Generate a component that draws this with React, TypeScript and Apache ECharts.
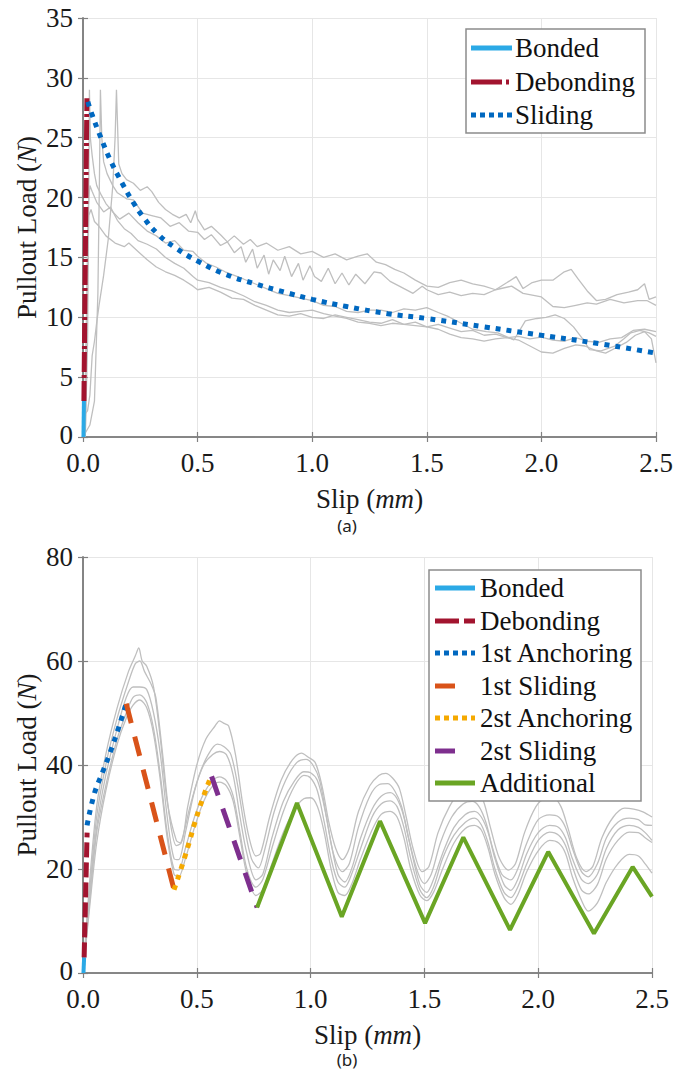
import React, { useEffect, useRef } from 'react';
import * as echarts from 'echarts';

// ---------- Chart (a) data ----------
const aBonded = [[0.002, 0], [0.004, 3]];
const aDebonding = [[0.004, 3], [0.017, 28.3]];
const aSliding = [[0.021, 28.0], [0.04, 26.9], [0.076, 25.1], [0.12, 23.1], [0.171, 21.2], [0.222, 19.5], [0.258, 18.5], [0.324, 17.0], [0.404, 15.8], [0.5, 14.7], [0.62, 13.6], [0.75, 12.8], [0.88, 12.1], [1.0, 11.5], [1.15, 10.9], [1.33, 10.3], [1.5, 9.9], [1.75, 9.2], [2.0, 8.5], [2.25, 7.8], [2.5, 7.0]];

const aTest1 = [[0, 0], [0.005, 1.8], [0.02, 2.2], [0.03, 3.5], [0.04, 6.8], [0.05, 8], [0.06, 9.6], [0.07, 11], [0.09, 13.5], [0.11, 16.5], [0.13, 21], [0.14, 25], [0.146, 29], [0.15, 26.5], [0.156, 22.8], [0.17, 22], [0.19, 21.5], [0.22, 21.2], [0.25, 20.6], [0.28, 20.9], [0.3, 20.5], [0.33, 19.6], [0.36, 19.0], [0.39, 18.6], [0.42, 18.3], [0.45, 18.6], [0.47, 17.9], [0.49, 18.9], [0.5, 18.2], [0.53, 17.3], [0.56, 17.6], [0.6, 16.9], [0.63, 16.3], [0.66, 16.8], [0.7, 16.1], [0.73, 16.5], [0.76, 15.9], [0.8, 16.2], [0.85, 15.6], [0.9, 15.9], [0.95, 15.3], [1.0, 15.5], [1.05, 15.0], [1.1, 15.3], [1.15, 14.8], [1.2, 15.1], [1.24, 15.3], [1.28, 14.6], [1.32, 14.4], [1.36, 14.0], [1.4, 13.7], [1.45, 13.1], [1.5, 12.6], [1.55, 12.5], [1.6, 12.9], [1.65, 13.1], [1.7, 12.8], [1.75, 12.6], [1.8, 12.3], [1.85, 12.9], [1.89, 13.4], [1.92, 12.4], [1.96, 12.9], [2.0, 13.1], [2.05, 13.1], [2.1, 13.8], [2.13, 14.0], [2.16, 13.2], [2.2, 12.2], [2.24, 11.4], [2.28, 11.5], [2.33, 11.9], [2.38, 12.1], [2.42, 12.3], [2.45, 12.8], [2.47, 11.5], [2.5, 11.7]];
const aTest2 = [[0, 0], [0.03, 1], [0.05, 3], [0.065, 12], [0.072, 22], [0.076, 29], [0.082, 25], [0.09, 23], [0.105, 22], [0.13, 21], [0.15, 20.4], [0.19, 19.9], [0.22, 19.8], [0.26, 18.7], [0.3, 18.5], [0.34, 18.3], [0.38, 17.6], [0.42, 17.9], [0.46, 17.2], [0.5, 17.1], [0.53, 16.5], [0.56, 16.9], [0.6, 16.0], [0.63, 16.3], [0.66, 15.4], [0.69, 15.9], [0.71, 14.6], [0.74, 15.7], [0.76, 14.1], [0.79, 15.2], [0.81, 13.6], [0.83, 14.8], [0.86, 13.9], [0.88, 15.1], [0.91, 13.4], [0.94, 14.5], [0.96, 13.1], [0.99, 14.3], [1.01, 13.4], [1.04, 13.0], [1.07, 14.1], [1.1, 12.8], [1.13, 13.7], [1.16, 12.7], [1.19, 13.6], [1.23, 12.8], [1.27, 13.8], [1.3, 13.7], [1.34, 13.0], [1.38, 12.6], [1.44, 12.0], [1.48, 12.6], [1.5, 12.3], [1.55, 11.9], [1.6, 12.1], [1.65, 11.8], [1.7, 12.0], [1.75, 11.9], [1.8, 12.3], [1.87, 12.6], [1.92, 12.0], [2.0, 11.7], [2.05, 10.9], [2.1, 10.8], [2.15, 11.0], [2.2, 11.2], [2.24, 11.1], [2.3, 11.5], [2.36, 11.2], [2.42, 11.4], [2.46, 11.4], [2.5, 11.0]];
const aTest3 = [[0.01, 0], [0.02, 8], [0.025, 20], [0.028, 29], [0.032, 25], [0.04, 23.5], [0.05, 22], [0.06, 21], [0.08, 20.2], [0.1, 19.5], [0.13, 18.8], [0.16, 18.2], [0.2, 18.7], [0.24, 17.9], [0.28, 17.2], [0.32, 16.8], [0.36, 16.2], [0.4, 16.4], [0.44, 15.6], [0.48, 15.5], [0.5, 15.1], [0.54, 14.5], [0.58, 14.2], [0.62, 13.8], [0.66, 13.5], [0.7, 13.2], [0.75, 12.8], [0.8, 12.4], [0.85, 12.0], [0.9, 11.8], [0.95, 11.6], [1.0, 11.4], [1.05, 11.0], [1.1, 10.9], [1.15, 10.5], [1.2, 10.4], [1.25, 10.6], [1.3, 10.6], [1.35, 10.4], [1.4, 10.7], [1.45, 10.6], [1.5, 10.8], [1.55, 10.4], [1.59, 10.1], [1.65, 9.5], [1.7, 9.0], [1.76, 8.8], [1.81, 8.7], [1.88, 8.1], [1.93, 9.7], [1.98, 9.9], [2.02, 10.0], [2.06, 10.2], [2.1, 9.9], [2.14, 9.2], [2.18, 8.2], [2.21, 7.3], [2.26, 7.2], [2.32, 7.6], [2.36, 8.2], [2.39, 8.7], [2.43, 8.9], [2.47, 8.7], [2.5, 8.4]];
const aTest4 = [[0.005, 0], [0.015, 10], [0.022, 19], [0.03, 21], [0.04, 20.5], [0.06, 19.6], [0.09, 18.8], [0.12, 19.2], [0.15, 18.1], [0.18, 17.4], [0.21, 17.0], [0.24, 16.4], [0.28, 16.1], [0.32, 15.7], [0.36, 15.0], [0.4, 14.5], [0.44, 14.1], [0.48, 13.4], [0.5, 13.1], [0.55, 12.9], [0.6, 12.5], [0.65, 12.2], [0.7, 11.8], [0.75, 11.3], [0.8, 11.0], [0.85, 10.6], [0.9, 10.4], [0.95, 10.5], [1.0, 10.6], [1.05, 10.3], [1.1, 10.1], [1.15, 9.9], [1.2, 9.6], [1.25, 9.5], [1.3, 9.3], [1.35, 9.5], [1.4, 9.4], [1.45, 9.3], [1.5, 9.2], [1.55, 9.0], [1.6, 8.6], [1.65, 8.3], [1.7, 8.2], [1.75, 8.0], [1.8, 8.2], [1.85, 8.3], [1.9, 8.1], [1.95, 7.6], [2.0, 7.1], [2.05, 7.0], [2.1, 7.4], [2.15, 7.7], [2.19, 7.6], [2.24, 7.2], [2.28, 7.0], [2.33, 7.5], [2.37, 7.9], [2.41, 8.5], [2.45, 8.8], [2.48, 8.2], [2.5, 6.2]];
const aTest5 = [[0.01, 0], [0.018, 12], [0.025, 18.5], [0.035, 19], [0.05, 18], [0.07, 17.6], [0.1, 16.8], [0.14, 16.2], [0.18, 15.9], [0.2, 16.2], [0.24, 15.5], [0.28, 14.8], [0.32, 14.2], [0.36, 13.8], [0.4, 13.5], [0.44, 13.1], [0.48, 12.6], [0.5, 12.3], [0.55, 12.5], [0.6, 12.1], [0.65, 11.6], [0.7, 11.5], [0.75, 11.0], [0.8, 10.6], [0.85, 10.2], [0.9, 10.1], [0.95, 10.3], [1.0, 10.0], [1.05, 9.9], [1.1, 10.2], [1.15, 10.0], [1.2, 9.8], [1.25, 9.6], [1.3, 9.5], [1.35, 9.8], [1.4, 9.4], [1.45, 9.6], [1.5, 9.2], [1.55, 9.4], [1.6, 9.1], [1.65, 8.8], [1.7, 8.9], [1.75, 8.5], [1.8, 8.6], [1.85, 8.3], [1.9, 8.4], [1.95, 8.2], [2.0, 8.35], [2.05, 8.1], [2.1, 8.0], [2.15, 8.3], [2.2, 8.0], [2.25, 7.9], [2.3, 8.2], [2.35, 8.3], [2.4, 8.9], [2.45, 9.0], [2.5, 8.8]];

// ---------- Chart (b) data ----------
const bBonded = [[0.002, 0], [0.005, 3]];
const bDebonding = [[0.005, 3], [0.018, 27]];
const bAnchoring1 = [[0.018, 28.4], [0.05, 34.5], [0.085, 38.5], [0.12, 42.5], [0.155, 47], [0.19, 51.8]];
const bSliding1 = [[0.19, 51.8], [0.4, 16]];
const bAnchoring2 = [[0.4, 16], [0.45, 22.7], [0.51, 31.5], [0.56, 37.5]];
const bSliding2 = [[0.565, 37.8], [0.765, 12.6]];
const bAdditional = [[0.765, 12.6], [0.94, 32.7], [1.137, 10.8], [1.305, 29.2], [1.503, 9.6], [1.671, 26.1], [1.876, 8.3], [2.044, 23.3], [2.245, 7.6], [2.415, 20.4], [2.5, 14.7]];

const bTest1 = [[0, 0], [0.03, 18], [0.06, 32], [0.1, 42], [0.15, 51], [0.2, 58], [0.23, 61], [0.245, 62.5], [0.26, 60], [0.28, 59], [0.31, 55], [0.34, 45], [0.37, 33], [0.41, 25.5], [0.43, 25], [0.46, 32], [0.5, 40], [0.54, 45], [0.58, 47.5], [0.6, 48.5], [0.62, 48], [0.64, 47.5], [0.67, 42], [0.7, 33], [0.73, 26], [0.76, 22.5], [0.78, 23], [0.82, 30], [0.87, 37], [0.92, 41], [0.96, 42.3], [0.99, 41.5], [1.02, 40.5], [1.05, 36], [1.08, 29], [1.11, 24], [1.14, 21.8], [1.17, 24], [1.21, 31], [1.26, 36], [1.3, 38], [1.33, 38.4], [1.36, 37.5], [1.39, 35.5], [1.42, 30], [1.45, 24], [1.49, 19.5], [1.52, 20.5], [1.56, 27], [1.61, 32], [1.66, 35], [1.7, 35.5], [1.73, 35], [1.76, 33], [1.79, 28], [1.83, 22], [1.87, 19.8], [1.9, 21], [1.94, 27], [1.99, 32], [2.03, 33.5], [2.07, 33.5], [2.1, 32], [2.13, 28], [2.17, 22], [2.21, 19.5], [2.24, 20.5], [2.28, 26], [2.33, 30], [2.38, 31.7], [2.42, 31.5], [2.46, 31], [2.5, 30]];
const bTest2 = [[0, 0], [0.03, 16], [0.06, 30], [0.1, 40], [0.15, 49], [0.2, 56], [0.23, 59.5], [0.25, 60], [0.27, 58], [0.3, 55.5], [0.32, 53], [0.35, 42], [0.38, 30], [0.41, 24.5], [0.43, 25], [0.47, 32], [0.51, 38], [0.55, 42], [0.59, 44], [0.62, 43.5], [0.65, 42], [0.68, 36], [0.71, 28], [0.74, 22], [0.77, 20.2], [0.8, 24], [0.84, 31], [0.89, 37], [0.94, 40.5], [0.98, 41.1], [1.01, 40], [1.04, 37], [1.07, 30], [1.1, 23], [1.14, 19.5], [1.17, 21], [1.21, 28], [1.26, 34], [1.3, 36.2], [1.34, 36.4], [1.37, 35], [1.4, 32], [1.43, 26], [1.47, 19.5], [1.5, 17.2], [1.53, 19], [1.57, 25], [1.62, 30], [1.67, 32.5], [1.71, 33], [1.74, 32], [1.77, 29], [1.8, 24], [1.84, 19], [1.88, 17.9], [1.91, 20], [1.95, 25], [2.0, 29.5], [2.05, 30.4], [2.09, 30], [2.12, 28], [2.15, 24], [2.19, 19.5], [2.22, 18.5], [2.26, 21], [2.3, 26], [2.35, 29], [2.4, 29.8], [2.44, 29.5], [2.47, 28.5], [2.5, 28.4]];
const bTest3 = [[0, 0], [0.03, 15], [0.06, 28], [0.1, 38], [0.15, 47], [0.19, 53], [0.22, 55], [0.25, 55], [0.28, 54.5], [0.31, 50], [0.34, 42], [0.37, 30], [0.4, 22], [0.42, 21.8], [0.45, 27], [0.49, 35], [0.53, 40], [0.57, 42], [0.6, 42.6], [0.63, 42], [0.66, 38], [0.69, 30], [0.72, 23], [0.76, 17.9], [0.79, 19], [0.83, 26], [0.88, 33], [0.93, 37], [0.97, 38.7], [1.0, 38.5], [1.03, 37], [1.06, 32], [1.09, 25], [1.12, 19], [1.15, 17.5], [1.18, 20], [1.22, 26], [1.27, 31.5], [1.31, 34], [1.35, 34.7], [1.38, 33.5], [1.41, 30], [1.44, 24], [1.48, 17], [1.51, 15.5], [1.54, 18], [1.58, 23], [1.63, 28], [1.68, 30.5], [1.72, 31.1], [1.75, 30], [1.78, 27], [1.81, 22], [1.85, 17], [1.88, 15.9], [1.91, 18], [1.95, 23], [2.0, 27], [2.05, 28.4], [2.09, 28], [2.12, 26], [2.15, 22], [2.19, 18], [2.22, 17.2], [2.26, 19], [2.3, 24], [2.35, 27.5], [2.4, 28.4], [2.44, 28], [2.47, 27], [2.5, 25.5]];
const bTest4 = [[0, 0], [0.03, 14], [0.06, 27], [0.1, 36], [0.15, 45], [0.19, 50], [0.22, 53], [0.25, 53.5], [0.28, 52], [0.31, 47], [0.34, 38], [0.37, 27], [0.4, 20], [0.42, 19.8], [0.45, 24], [0.49, 30], [0.53, 34.5], [0.57, 37], [0.6, 37.7], [0.63, 37], [0.66, 34], [0.69, 27], [0.72, 20], [0.76, 16.5], [0.79, 18], [0.83, 24], [0.88, 31], [0.93, 36], [0.97, 38], [1.0, 37.5], [1.03, 35], [1.06, 29], [1.09, 22], [1.12, 17.5], [1.15, 16.5], [1.18, 19], [1.22, 24], [1.27, 30], [1.31, 32.5], [1.35, 33.1], [1.38, 32], [1.41, 28], [1.44, 22], [1.48, 16], [1.51, 14.5], [1.54, 16.5], [1.58, 22], [1.63, 26.5], [1.68, 29], [1.72, 29.8], [1.75, 28.5], [1.78, 25], [1.81, 20], [1.85, 15.5], [1.88, 14.5], [1.91, 16.5], [1.95, 21], [2.0, 25.5], [2.05, 27.1], [2.09, 26.5], [2.12, 24.5], [2.15, 20.5], [2.19, 16], [2.22, 15.2], [2.26, 17], [2.3, 22], [2.35, 25.5], [2.4, 27.1], [2.44, 27], [2.47, 26], [2.5, 25.1]];
const bTest5 = [[0, 0], [0.03, 13], [0.06, 25], [0.1, 35], [0.15, 44], [0.19, 49], [0.22, 51.5], [0.25, 52.5], [0.28, 51], [0.31, 46], [0.34, 37], [0.37, 26], [0.4, 19], [0.42, 18.5], [0.45, 22], [0.49, 28], [0.53, 33], [0.57, 36], [0.6, 36.7], [0.63, 36], [0.66, 33], [0.69, 26], [0.72, 19], [0.76, 14.9], [0.79, 16], [0.83, 21], [0.88, 27], [0.93, 31.5], [0.97, 33.5], [1.0, 33.7], [1.03, 32], [1.06, 27], [1.09, 20], [1.12, 15.5], [1.15, 14.9], [1.18, 17], [1.22, 22], [1.27, 27.5], [1.31, 30.5], [1.35, 31.1], [1.38, 30], [1.41, 26], [1.44, 20], [1.48, 15], [1.51, 13.9], [1.54, 15.5], [1.58, 20], [1.63, 25], [1.68, 27.8], [1.72, 28.4], [1.75, 27.5], [1.78, 24], [1.81, 19], [1.85, 14.5], [1.88, 13.2], [1.91, 15], [1.95, 19.5], [2.0, 23.5], [2.05, 25.5], [2.09, 25], [2.12, 23], [2.15, 18.5], [2.19, 14], [2.22, 11.9], [2.26, 13.5], [2.3, 17.5], [2.35, 21], [2.4, 22.8], [2.44, 22.5], [2.47, 21], [2.5, 19.2]];

// ---------- labels ----------
const aLegendLabels = ['Bonded', 'Debonding', 'Sliding'];
const bLegendLabels = ['Bonded', 'Debonding', '1st Anchoring', '1st Sliding', '2st Anchoring', '2st Sliding', 'Additional'];
const xTitle = ['Slip (', 'mm', ')'];
const yTitle = ['Pullout Load (', 'N', ')'];
const panelLabels = ['(a)', '(b)'];

const SERIF = 'Liberation Serif';
const C_BOND = '#2ba9e6';
const C_DEB = '#a2142f';
const C_BLUE = '#0068c0';
const C_ORANGE = '#d95319';
const C_YELLOW = '#f5a900';
const C_PURPLE = '#7e2f8e';
const C_GREEN = '#6aa524';
const C_GREY = '#bfbfbf';
const C_AXIS = '#808080';

const DASH_DOT = [20, 3, 3, 3];
const DASH_B = [15, 5];
const DOTS = [5, 6];
const LONGDASH = [20, 14];

function buildOption() {
  const grids = [
    { left: 83, top: 18, width: 573, height: 419 },
    { left: 83, top: 557, width: 569, height: 416 },
  ];
  const rich = {
    r: { fontFamily: SERIF, fontSize: 27, color: '#1a1a1a' },
    i: { fontFamily: SERIF, fontSize: 27, color: '#1a1a1a', fontStyle: 'italic' },
  };
  const axisLine = { show: true, lineStyle: { color: C_AXIS, width: 1.6 } };
  const tick = { show: true, inside: true, length: 5, lineStyle: { color: C_AXIS, width: 1.2 } };
  const split = { show: true, lineStyle: { color: '#e6e6e6', width: 1 } };
  const labelStyle = { fontFamily: SERIF, fontSize: 27, color: '#1a1a1a' };

  const xAxes: any[] = [];
  const yAxes: any[] = [];
  const yMax = [35, 80];
  const yInt = [5, 20];
  [0, 1].forEach((g) => {
    xAxes.push({
      type: 'value', gridIndex: g, min: 0, max: 2.5, interval: 0.5, position: 'bottom',
      axisLine, axisTick: tick, splitLine: split,
      axisLabel: { ...labelStyle, margin: 12, formatter: (v: number) => v.toFixed(1) },
      name: `{r|${xTitle[0]}}{i|${xTitle[1]}}{r|${xTitle[2]}}`,
      nameLocation: 'middle', nameGap: 48, nameMoveOverlap: false, nameTextStyle: { rich },
    });
    xAxes.push({
      type: 'value', gridIndex: g, min: 0, max: 2.5, interval: 0.5, position: 'top',
      axisLine, axisTick: tick, splitLine: { show: false }, axisLabel: { show: false },
    });
    yAxes.push({
      type: 'value', gridIndex: g, min: 0, max: yMax[g], interval: yInt[g], position: 'left',
      axisLine, axisTick: tick, splitLine: split,
      axisLabel: {
        ...labelStyle, margin: 10,
        formatter: (v: number) => (v === 0 ? '{z|0}' : String(v)),
        rich: { z: { fontFamily: SERIF, fontSize: 27, color: '#1a1a1a', padding: [0, 0, 5, 0] } },
      },
      name: `{r|${yTitle[0]}}{i|${yTitle[1]}}{r|${yTitle[2]}}`,
      nameLocation: 'middle', nameGap: 43, nameRotate: 90, nameMoveOverlap: false, nameTextStyle: { rich },
    });
    yAxes.push({
      type: 'value', gridIndex: g, min: 0, max: yMax[g], interval: yInt[g], position: 'right',
      axisLine, axisTick: tick, splitLine: { show: false }, axisLabel: { show: false },
    });
  });

  const grey = (name: string, data: number[][], g: number, smooth: number | boolean) => ({
    type: 'line', name, data, xAxisIndex: g * 2, yAxisIndex: g * 2, showSymbol: false, symbol: 'none',
    smooth, lineStyle: { color: C_GREY, width: 1.3 }, z: 2, silent: true,
  });
  const colored = (name: string, data: number[][], g: number, color: string, width: number, type: any, smooth = false) => ({
    type: 'line', name, data, xAxisIndex: g * 2, yAxisIndex: g * 2, showSymbol: false, symbol: 'none',
    smooth, clip: false, lineStyle: { color, width, type, cap: 'butt' }, z: 5,
  });

  const series: any[] = [
    grey('Test a1', aTest1, 0, false), grey('Test a2', aTest2, 0, false), grey('Test a3', aTest3, 0, false),
    grey('Test a4', aTest4, 0, false), grey('Test a5', aTest5, 0, false),
    colored(aLegendLabels[0], aBonded, 0, C_BOND, 4, 'solid'),
    colored(aLegendLabels[1], aDebonding, 0, C_DEB, 5, DASH_DOT),
    colored(aLegendLabels[2], aSliding, 0, C_BLUE, 5, DOTS, true),
    grey('Test b1', bTest1, 1, 0.3), grey('Test b2', bTest2, 1, 0.3), grey('Test b3', bTest3, 1, 0.3),
    grey('Test b4', bTest4, 1, 0.3), grey('Test b5', bTest5, 1, 0.3),
    colored(bLegendLabels[0], bBonded, 1, C_BOND, 4, 'solid'),
    colored(bLegendLabels[1], bDebonding, 1, C_DEB, 5, DASH_B),
    colored(bLegendLabels[2], bAnchoring1, 1, C_BLUE, 5, DOTS, true),
    colored(bLegendLabels[3], bSliding1, 1, C_ORANGE, 5, LONGDASH),
    colored(bLegendLabels[4], bAnchoring2, 1, C_YELLOW, 5, DOTS, true),
    colored(bLegendLabels[5], bSliding2, 1, C_PURPLE, 5, LONGDASH),
    colored(bLegendLabels[6], bAdditional, 1, C_GREEN, 4, 'solid'),
  ];

  const legendBox = (x: number, y: number, w: number, h: number, lx1: number, lx2: number, tx: number,
    rows: { label: string; color: string; dash: any; y: number; x2?: number }[]) => {
    const els: any[] = [
      { type: 'rect', shape: { x, y, width: w, height: h }, style: { fill: '#ffffff', stroke: '#8c8c8c', lineWidth: 1.5 }, z: 100 },
    ];
    rows.forEach((r) => {
      els.push({
        type: 'line', shape: { x1: lx1, y1: r.y, x2: r.x2 ?? lx2, y2: r.y },
        style: { stroke: r.color, lineWidth: 5, lineDash: r.dash, lineCap: 'butt' }, z: 101,
      });
      els.push({
        type: 'text', x: tx, y: r.y,
        style: { text: r.label, fontFamily: SERIF, fontSize: 27, fill: '#111111', align: 'left', verticalAlign: 'middle' }, z: 101,
      });
    });
    return els;
  };

  const graphic: any[] = [
    ...legendBox(466, 29, 179, 104, 471, 512, 515, [
      { label: aLegendLabels[0], color: C_BOND, dash: null, y: 48 },
      { label: aLegendLabels[1], color: C_DEB, dash: [31, 4, 3, 4], y: 82 },
      { label: aLegendLabels[2], color: C_BLUE, dash: [5, 4], y: 115 },
    ]),
    ...legendBox(429, 570, 212, 231, 435, 475, 480, [
      { label: bLegendLabels[0], color: C_BOND, dash: null, y: 588 },
      { label: bLegendLabels[1], color: C_DEB, dash: [24, 5], y: 621 },
      { label: bLegendLabels[2], color: C_BLUE, dash: [5, 4], y: 653 },
      { label: bLegendLabels[3], color: C_ORANGE, dash: null, y: 686, x2: 455 },
      { label: bLegendLabels[4], color: C_YELLOW, dash: [5, 4], y: 718 },
      { label: bLegendLabels[5], color: C_PURPLE, dash: null, y: 751, x2: 455 },
      { label: bLegendLabels[6], color: C_GREEN, dash: null, y: 783 },
    ]),
    { type: 'text', x: 347, y: 525, style: { text: panelLabels[0], fontFamily: 'Noto Sans', fontSize: 17, fill: '#222222', align: 'center', verticalAlign: 'middle' } },
    { type: 'text', x: 347, y: 1059, style: { text: panelLabels[1], fontFamily: 'Noto Sans', fontSize: 17, fill: '#222222', align: 'center', verticalAlign: 'middle' } },
  ];

  return {
    animation: false,
    backgroundColor: '#ffffff',
    grid: grids,
    xAxis: xAxes,
    yAxis: yAxes,
    series,
    graphic,
  };
}

export default function App() {
  const ref = useRef<HTMLDivElement>(null);
  useEffect(() => {
    if (!ref.current) return;
    const chart = echarts.init(ref.current, null, { renderer: 'svg' });
    chart.setOption(buildOption() as any);
    return () => chart.dispose();
  }, []);
  return (
    <div
      ref={ref}
      style={{ position: 'absolute', left: 0, top: 0, width: 689, height: 1069, background: '#ffffff' }}
    />
  );
}
